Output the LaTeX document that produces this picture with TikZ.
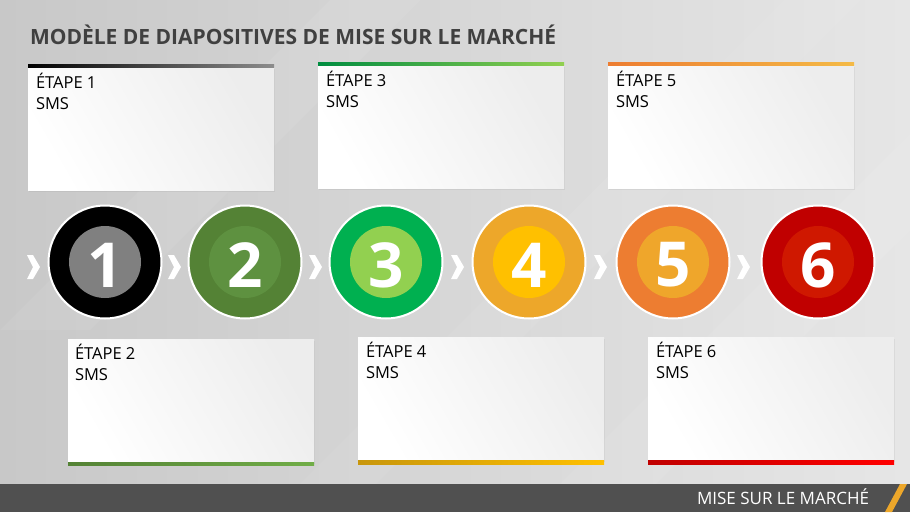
\documentclass[tikz,border=0pt]{standalone}
\usepackage{fontspec}
\setmainfont{Open Sans}
\usetikzlibrary{positioning,shadows}
\definecolor{bgleft}{HTML}{C8C8C8}
\definecolor{bgright}{HTML}{E6E6E6}
\definecolor{footgray}{HTML}{505050}
\definecolor{titlegray}{HTML}{404040}
\definecolor{boxgray}{HTML}{EDEDED}
\definecolor{olive}{HTML}{548235}
\definecolor{oliveIn}{HTML}{5E9140}
\definecolor{oliveLt}{HTML}{70AD47}
\definecolor{green}{HTML}{00B050}
\definecolor{greenLt}{HTML}{92D050}
\definecolor{gold}{HTML}{EDA72A}
\definecolor{goldIn}{HTML}{FFC000}
\definecolor{goldDk}{HTML}{C8960C}
\definecolor{orange}{HTML}{ED7D31}
\definecolor{orangeIn}{HTML}{EFA62B}
\definecolor{orangeLt}{HTML}{F4BA46}
\definecolor{darkred}{HTML}{C00000}
\definecolor{redIn}{HTML}{CF1800}
\definecolor{brightred}{HTML}{FF0000}
\tikzset{
x=1pt,
y=-1pt,
every node/.style={inner sep=0pt, outer sep=0pt},
}

\begin{document}
\begin{tikzpicture}
    [stepbox/.style={rectangle, minimum width=246pt, minimum height=123pt,
        left color=white, right color=boxgray, shading angle=120,
        drop shadow={opacity=0.12, shadow xshift=1pt, shadow yshift=-1.5pt}},
    steptext/.style={align=left, font=\fontsize{16.5}{21}\selectfont, text=black},
    ring/.style={circle, minimum size=113pt, draw=white, line width=2pt},
    core/.style={circle, minimum size=72pt},
    digit/.style={text=white, font=\fontsize{62}{62}\selectfont\bfseries},
    chev/.style={fill=white},
    ]
    % background
    \useasboundingbox (0,0) rectangle (910,512);
    \shade[left color=bgleft, right color=bgright] (0,0) rectangle (910,484);
    \fill[white, opacity=0.07] (0,330) -- (330,0) -- (420,0) -- (90,330) -- cycle;
    \fill[white, opacity=0.06] (300,484) -- (784,0) -- (860,0) -- (376,484) -- cycle;
    \fill[white, opacity=0.08] (560,484) -- (910,134) -- (910,230) -- (656,484) -- cycle;

    \node [anchor=base west, text=titlegray, font=\fontsize{21}{22}\selectfont\bfseries] (title) at (30,44)
    {MODÈLE DE DIAPOSITIVES DE MISE SUR LE MARCHÉ};

    % upper boxes
    \node [stepbox] (b1) at (151,128.5) {};
    \node [stepbox] (b3) at (441,127) {};
    \node [stepbox] (b5) at (731,127) {};
    \shade[left color=black, right color=gray!90] (b1.north west) rectangle ([yshift=3pt]b1.north east);
    \shade[left color=green!80!black, right color=greenLt] (b3.north west) rectangle ([yshift=3pt]b3.north east);
    \shade[left color=orange, right color=orangeLt] (b5.north west) rectangle ([yshift=3pt]b5.north east);

    \node [steptext, below right=6pt and 8pt of b1.north west] (t1) {ÉTAPE 1\\SMS};
    \node [steptext, below right=6pt and 8pt of b3.north west] (t3) {ÉTAPE 3\\SMS};
    \node [steptext, below right=6pt and 8pt of b5.north west] (t5) {ÉTAPE 5\\SMS};

    % lower boxes
    \node [stepbox] (b2) at (191,400.5) {};
    \node [stepbox] (b4) at (481,399) {};
    \node [stepbox] (b6) at (771,399) {};
    \shade[left color=olive, right color=oliveLt] (b2.south west) rectangle ([yshift=-3.5pt]b2.south east);
    \shade[left color=goldDk, right color=goldIn] (b4.south west) rectangle ([yshift=-3.5pt]b4.south east);
    \shade[left color=darkred, right color=brightred] (b6.south west) rectangle ([yshift=-3.5pt]b6.south east);

    \node [steptext, below right=5pt and 7pt of b2.north west] (t2) {ÉTAPE 2\\SMS};
    \node [steptext, below right=5pt and 8pt of b4.north west] (t4) {ÉTAPE 4\\SMS};
    \node [steptext, below right=5pt and 8pt of b6.north west] (t6) {ÉTAPE 6\\SMS};

    % step circles
    \node [ring, fill=black] (c1) at (105,262) {};
    \node [ring, fill=olive] (c2) at (245,262) {};
    \node [ring, fill=green] (c3) at (386,262) {};
    \node [ring, fill=gold] (c4) at (529,262) {};
    \node [ring, fill=orange] (c5) at (673,262) {};
    \node [ring, fill=darkred] (c6) at (818,262) {};

    \node [core, fill=gray] (k1) at (c1) {};
    \node [core, fill=oliveIn] (k2) at (c2) {};
    \node [core, fill=greenLt] (k3) at (c3) {};
    \node [core, fill=goldIn] (k4) at (c4) {};
    \node [core, fill=orangeIn] (k5) at (c5) {};
    \node [core, fill=redIn] (k6) at (c6) {};

    \node [digit] (d1) at ([yshift=-3pt]c1) {1};
    \node [digit] (d2) at ([yshift=-3pt]c2) {2};
    \node [digit] (d3) at ([yshift=-3pt]c3) {3};
    \node [digit] (d4) at ([yshift=-3pt]c4) {4};
    \node [digit] (d5) at ([yshift=-3pt]c5) {5};
    \node [digit] (d6) at ([yshift=-3pt]c6) {6};

    % chevrons between the circles
    \fill[chev, shift={(33,267)}] (-6,-12) -- (0,-12) -- (7,0) -- (0,12) -- (-6,12) -- (0,0) -- cycle;
    \fill[chev, shift={(174,267)}] (-6,-12) -- (0,-12) -- (7,0) -- (0,12) -- (-6,12) -- (0,0) -- cycle;
    \fill[chev, shift={(315,267)}] (-6,-12) -- (0,-12) -- (7,0) -- (0,12) -- (-6,12) -- (0,0) -- cycle;
    \fill[chev, shift={(457,267)}] (-6,-12) -- (0,-12) -- (7,0) -- (0,12) -- (-6,12) -- (0,0) -- cycle;
    \fill[chev, shift={(600,267)}] (-6,-12) -- (0,-12) -- (7,0) -- (0,12) -- (-6,12) -- (0,0) -- cycle;
    \fill[chev, shift={(743,267)}] (-6,-12) -- (0,-12) -- (7,0) -- (0,12) -- (-6,12) -- (0,0) -- cycle;

    % footer
    \fill[footgray] (0,484) rectangle (910,512);
    \fill[gold] (900,484) -- (907,484) -- (892,512) -- (885,512) -- cycle;
    \node [anchor=base east, text=white, font=\fontsize{17}{17}\selectfont] (foot) at (869,504) {MISE SUR LE MARCHÉ};

\end{tikzpicture}
\end{document}
